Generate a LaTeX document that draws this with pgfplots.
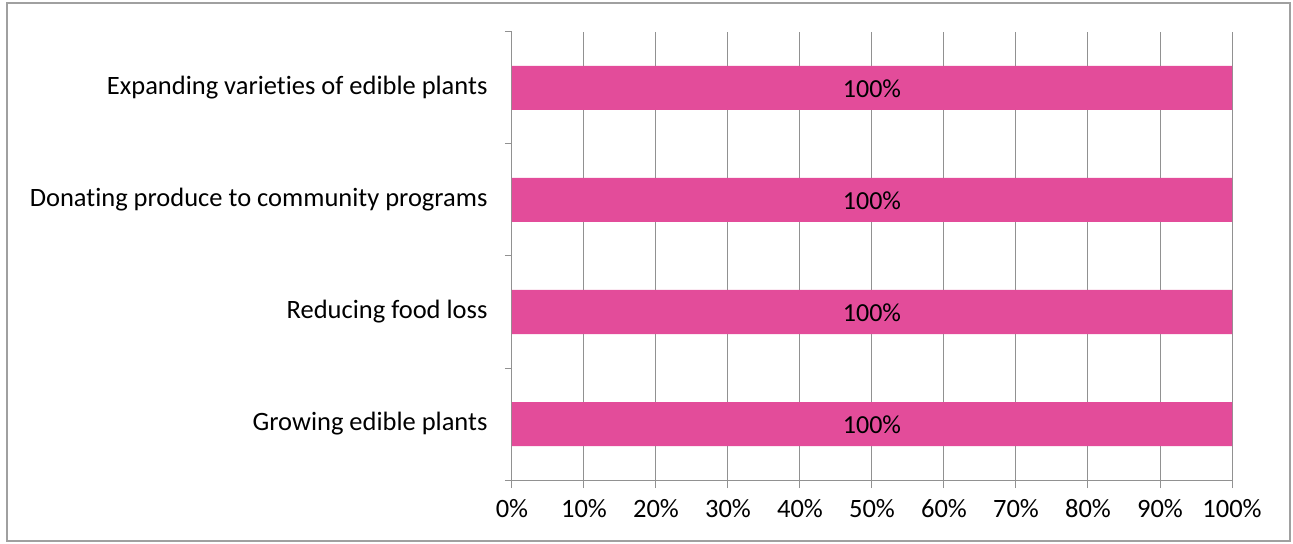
\documentclass[border=0pt]{standalone}
\usepackage{pgfplots}
\pgfplotsset{compat=1.18}
\usepackage{fontspec}
\setmainfont[Ligatures=NoCommon]{Carlito}
\definecolor{barpink}{RGB}{227,76,154}
\definecolor{gridgray}{RGB}{145,145,145}
\definecolor{framegray}{RGB}{160,160,160}

\begin{document}
\begin{tikzpicture}
\useasboundingbox (-512bp,-64bp) rectangle (781bp,480bp);
\draw[framegray, line width=1.2bp] (-505bp,-61bp) rectangle (778bp,477bp);
\begin{axis}[
    at={(0,0)}, anchor=south west,
    scale only axis,
    width=720bp, height=448bp,
    xbar, bar width=44bp,
    xmin=0, xmax=100,
    ymin=-0.5, ymax=3.5,
    xtick={0,10,...,100},
    xticklabel={\pgfmathprintnumber{\tick}\%},
    ytick={0,1,2,3},
    yticklabels={Growing edible plants, Reducing food loss, Donating produce to community programs, Expanding varieties of edible plants},
    minor ytick={-0.5,0.5,1.5,2.5,3.5},
    axis x line*=bottom, axis y line*=left,
    axis line style={gridgray, line width=1bp, -},
    xmajorgrids, grid style={gridgray, line width=1bp},
    major x tick style={gridgray, line width=1bp},
    minor y tick style={gridgray, line width=1bp},
    major y tick style={draw=none},
    tick align=outside,
    major tick length=8bp, minor tick length=7bp,
    tick label style={font=\fontsize{26.5bp}{30bp}\selectfont, text=black},
    /pgf/number format/assume math mode=true,
    xticklabel style={yshift=-8bp},
    yticklabel style={xshift=-13bp},
    nodes near coords={\pgfmathprintnumber{\pgfplotspointmeta}\%},
    point meta=x,
    every node near coord/.append style={anchor=center, xshift=-360bp, yshift=-1bp, font=\fontsize{26bp}{30bp}\selectfont, text=black},
]
\addplot[fill=barpink, draw=none] coordinates {
    (100,0)
    (100,1)
    (100,2)
    (100,3)
};
\end{axis}
\end{tikzpicture}
\end{document}
